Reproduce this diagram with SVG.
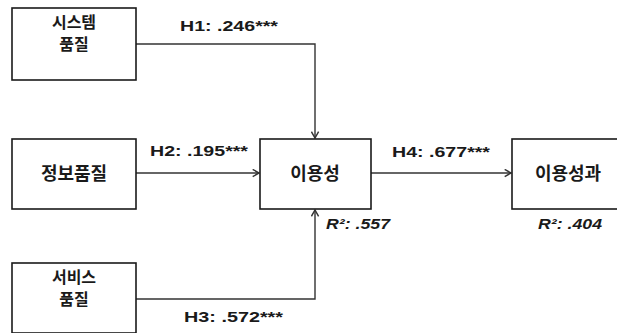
<svg xmlns="http://www.w3.org/2000/svg" width="617" height="333" viewBox="0 0 617 333">
<style>
.box{fill:#fff;stroke:#1a1a1a;stroke-width:1.6}
.kr{font-family:"Noto Sans CJK KR","Noto Sans",sans-serif;font-weight:bold;fill:#1a1a1a;text-anchor:middle}
.lbl{font-family:"Liberation Sans",Arial,sans-serif;font-weight:bold;font-size:15px;fill:#1a1a1a}
.r2{font-family:"Liberation Sans",Arial,sans-serif;font-weight:bold;font-style:italic;font-size:14px;fill:#1a1a1a}
.ln{fill:none;stroke:#333;stroke-width:1.4}
</style>
<defs>
<marker id="ah" viewBox="0 0 10 10" refX="9" refY="5" markerWidth="9" markerHeight="9" markerUnits="userSpaceOnUse" orient="auto">
<polyline points="2,1 9,5 2,9" fill="none" stroke="#333" stroke-width="1.6"/>
</marker>
</defs>
<g id="connectors">
<polyline class="ln" points="136,44 315,44 315,138" marker-end="url(#ah)"/>
<line class="ln" x1="136" y1="173" x2="259" y2="173" marker-end="url(#ah)"/>
<polyline class="ln" points="136,299 315,299 315,210" marker-end="url(#ah)"/>
<line class="ln" x1="371" y1="173" x2="511" y2="173" marker-end="url(#ah)"/>
<text class="lbl" x="180" y="31" textLength="98" lengthAdjust="spacingAndGlyphs">H1: .246***</text>
<text class="lbl" x="150" y="156" textLength="98" lengthAdjust="spacingAndGlyphs">H2: .195***</text>
<text class="lbl" x="184" y="322" textLength="99" lengthAdjust="spacingAndGlyphs">H3: .572***</text>
<text class="lbl" x="392" y="157" textLength="98" lengthAdjust="spacingAndGlyphs">H4: .677***</text>
</g>
<g id="node-system">
<rect class="box" x="12" y="8" width="124" height="72"/>
<text class="kr" x="74" y="28" font-size="16">시스템</text>
<text class="kr" x="74" y="50" font-size="16">품질</text>
</g>
<g id="node-info">
<rect class="box" x="12" y="139" width="124" height="70"/>
<text class="kr" x="74" y="180" font-size="18">정보품질</text>
</g>
<g id="node-service">
<rect class="box" x="12" y="263" width="124" height="70"/>
<text class="kr" x="74" y="283" font-size="16">서비스</text>
<text class="kr" x="74" y="305" font-size="16">품질</text>
</g>
<g id="node-usability">
<rect class="box" x="260" y="139" width="111" height="70"/>
<text class="kr" x="315" y="180" font-size="18">이용성</text>
<text class="r2" x="326" y="229" textLength="64" lengthAdjust="spacingAndGlyphs">R²: .557</text>
</g>
<g id="node-outcome">
<rect class="box" x="512" y="139" width="110" height="70"/>
<text class="kr" x="568" y="180" font-size="18">이용성과</text>
<text class="r2" x="538" y="229" textLength="64" lengthAdjust="spacingAndGlyphs">R²: .404</text>
</g>
</svg>
